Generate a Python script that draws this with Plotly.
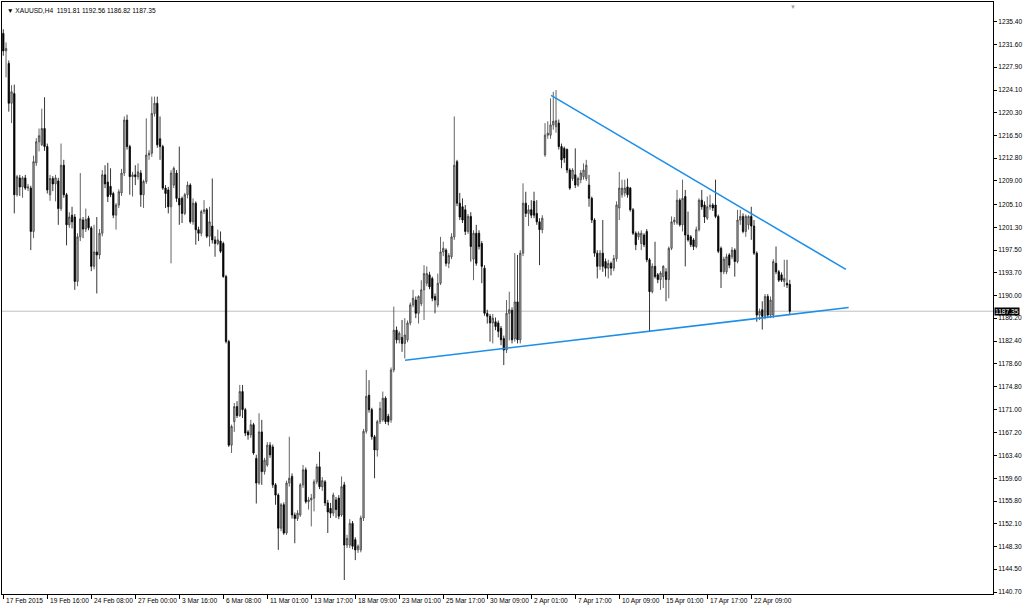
"""XAUUSD H4 candlestick chart with triangle trend lines (MT4 style)"""

import plotly.graph_objects as go

# OHLC per H4 bar, 17 Feb 2015 -> 24 Apr 2015
opens = [
    1233.5, 1230.6, 1228.5, 1221.9, 1223.5, 1206.7, 1209.5, 1208.0, 1209.5, 1207.8,
    1207.8, 1200.6, 1212.0, 1215.5, 1215.0, 1217.7, 1214.7, 1206.7, 1209.4, 1208.5,
    1209.0, 1204.4, 1211.6, 1206.7, 1201.7, 1203.3, 1203.0, 1192.3, 1199.7, 1202.5,
    1201.0, 1202.8, 1201.2, 1194.8, 1197.2, 1196.7, 1200.3, 1210.0, 1208.8, 1208.1,
    1206.9, 1203.3, 1205.0, 1207.0, 1210.3, 1219.1, 1214.7, 1209.7, 1210.0, 1209.7,
    1210.3, 1206.7, 1208.9, 1213.3, 1213.6, 1220.2, 1221.9, 1216.0, 1214.7, 1207.8,
    1207.5, 1204.7, 1208.3, 1210.3, 1206.1, 1206.1, 1203.6, 1206.7, 1208.3, 1202.2,
    1205.3, 1200.9, 1200.3, 1203.9, 1204.2, 1199.8, 1201.5, 1199.2, 1198.6, 1199.0,
    1198.6, 1193.1, 1182.3, 1165.1, 1169.0, 1171.5, 1170.0, 1174.0, 1171.0, 1167.3,
    1166.8, 1168.5, 1162.9, 1158.8, 1167.3, 1160.7, 1161.8, 1165.1, 1164.8, 1158.5,
    1156.8, 1151.3, 1155.2, 1150.5, 1158.8, 1159.9, 1153.5, 1152.9, 1153.5, 1158.5,
    1161.0, 1155.7, 1156.0, 1156.3, 1159.0, 1161.5, 1158.2, 1159.0, 1155.5, 1154.6,
    1153.8, 1156.0, 1156.3, 1153.5, 1158.5, 1148.5, 1148.5, 1152.1, 1149.4, 1147.7,
    1147.7, 1153.0, 1167.4, 1173.4, 1171.0, 1166.5, 1164.3, 1169.0, 1169.3, 1172.9,
    1169.9, 1169.3, 1177.6, 1184.2, 1182.6, 1183.0, 1182.0, 1182.6, 1185.4, 1188.4,
    1189.2, 1187.0, 1188.6, 1190.9, 1192.0, 1193.4, 1192.8, 1189.8, 1188.4, 1192.0,
    1197.2, 1197.5, 1195.3, 1196.4, 1199.7, 1212.2, 1205.3, 1204.7, 1204.2, 1200.6,
    1203.1, 1196.0, 1200.3, 1200.3, 1198.6, 1194.5, 1187.0, 1186.5, 1185.4, 1185.6,
    1185.4, 1184.5, 1182.8, 1180.9, 1187.0, 1187.5, 1182.8, 1188.9, 1182.6, 1197.0,
    1205.3, 1203.6, 1204.2, 1205.6, 1203.6, 1202.2, 1200.9, 1213.3, 1216.6, 1216.6,
    1218.3, 1218.0, 1218.6, 1214.7, 1214.4, 1214.2, 1210.8, 1209.4, 1210.0, 1208.3,
    1209.2, 1209.7, 1209.4, 1208.3, 1206.1, 1202.5, 1197.0, 1194.8, 1197.0, 1195.6,
    1194.5, 1195.3, 1194.5, 1196.1, 1204.5, 1206.7, 1207.0, 1208.0, 1207.8, 1204.2,
    1200.3, 1199.7, 1198.6, 1200.0, 1200.6, 1195.9, 1190.6, 1194.8, 1193.4, 1192.6,
    1193.1, 1193.9, 1192.6, 1197.8, 1202.2, 1202.0, 1205.8, 1201.7, 1206.4, 1200.0,
    1199.7, 1199.2, 1198.1, 1200.9, 1205.8, 1205.0, 1202.8, 1204.7, 1205.0, 1205.0,
    1203.1, 1197.8, 1193.9, 1193.9, 1196.7, 1196.4, 1197.5, 1195.6, 1202.5, 1203.1,
    1200.6, 1201.7, 1203.1, 1201.5, 1197.0, 1186.7, 1187.6, 1186.5, 1189.8, 1186.7,
    1186.7, 1195.3, 1193.9, 1193.4, 1192.3, 1192.0, 1191.81,
]
highs = [
    1234.2, 1232.0, 1229.0, 1224.9, 1225.0, 1210.0, 1210.0, 1209.8, 1210.0, 1208.5,
    1208.2, 1213.2, 1216.1, 1217.7, 1221.0, 1222.9, 1215.2, 1210.0, 1209.8, 1210.0,
    1209.5, 1215.2, 1212.5, 1207.0, 1203.8, 1204.7, 1203.5, 1200.3, 1210.3, 1203.0,
    1204.4, 1203.2, 1201.5, 1201.7, 1203.0, 1201.0, 1210.8, 1211.6, 1212.0, 1211.1,
    1207.2, 1205.3, 1207.6, 1211.0, 1219.7, 1220.0, 1215.0, 1210.5, 1211.6, 1211.9,
    1210.8, 1209.2, 1219.4, 1214.1, 1223.0, 1223.0, 1223.0, 1219.7, 1215.0, 1208.3,
    1208.0, 1210.8, 1211.4, 1210.8, 1214.7, 1206.4, 1207.0, 1208.9, 1208.6, 1206.1,
    1205.6, 1201.4, 1204.2, 1205.8, 1204.5, 1204.7, 1209.4, 1199.8, 1200.9, 1200.6,
    1198.9, 1193.4, 1182.6, 1168.5, 1172.1, 1172.4, 1175.1, 1175.1, 1171.3, 1167.6,
    1169.3, 1168.8, 1163.5, 1170.4, 1169.3, 1163.0, 1165.6, 1165.6, 1165.2, 1158.8,
    1157.1, 1155.5, 1155.6, 1159.2, 1166.5, 1160.4, 1153.9, 1154.3, 1158.8, 1161.8,
    1161.4, 1156.5, 1157.0, 1159.4, 1162.0, 1164.0, 1159.8, 1159.3, 1156.0, 1155.5,
    1157.2, 1156.5, 1156.8, 1159.9, 1159.0, 1150.2, 1152.8, 1152.5, 1149.8, 1148.6,
    1153.4, 1167.8, 1177.6, 1175.9, 1171.3, 1166.8, 1169.3, 1172.3, 1174.0, 1173.2,
    1170.3, 1178.0, 1188.1, 1184.8, 1184.0, 1185.9, 1186.2, 1185.8, 1188.8, 1190.9,
    1189.8, 1190.0, 1192.5, 1195.0, 1194.8, 1193.9, 1193.1, 1190.3, 1193.6, 1199.7,
    1198.9, 1197.8, 1197.0, 1200.3, 1219.7, 1212.5, 1207.0, 1206.1, 1205.0, 1203.5,
    1203.8, 1200.8, 1201.7, 1200.8, 1199.0, 1195.0, 1187.6, 1186.9, 1186.9, 1186.3,
    1185.8, 1184.9, 1183.3, 1189.2, 1190.6, 1188.0, 1197.0, 1196.7, 1197.5, 1208.6,
    1207.2, 1205.0, 1205.8, 1207.2, 1205.8, 1202.8, 1203.3, 1218.6, 1218.9, 1222.7,
    1223.8, 1224.1, 1219.2, 1215.2, 1214.7, 1214.4, 1211.1, 1211.1, 1214.4, 1209.7,
    1210.8, 1211.9, 1212.5, 1210.0, 1206.4, 1202.8, 1197.5, 1197.5, 1202.5, 1196.1,
    1195.9, 1195.6, 1196.7, 1205.6, 1210.5, 1209.2, 1209.2, 1209.4, 1208.0, 1204.5,
    1200.6, 1200.6, 1200.8, 1200.3, 1201.0, 1196.2, 1195.3, 1198.9, 1193.7, 1194.0,
    1195.0, 1194.5, 1198.1, 1203.1, 1203.0, 1207.5, 1206.1, 1209.2, 1207.5, 1203.9,
    1200.0, 1199.5, 1201.4, 1206.1, 1207.5, 1205.6, 1206.4, 1206.7, 1205.3, 1209.2,
    1203.4, 1198.1, 1196.4, 1196.9, 1197.0, 1198.0, 1197.8, 1204.2, 1204.2, 1203.6,
    1203.4, 1203.3, 1204.7, 1202.5, 1197.3, 1187.8, 1189.0, 1190.2, 1190.2, 1189.8,
    1196.0, 1198.1, 1194.2, 1193.8, 1195.9, 1195.9, 1192.56,
]
lows = [
    1229.8, 1226.2, 1220.5, 1218.6, 1203.6, 1206.4, 1206.5, 1206.2, 1207.5, 1207.3,
    1197.5, 1199.5, 1211.5, 1213.9, 1214.8, 1214.0, 1206.9, 1205.7, 1207.3, 1205.6,
    1201.7, 1204.0, 1206.2, 1198.3, 1201.2, 1201.1, 1190.9, 1191.5, 1199.0, 1199.5,
    1200.5, 1200.8, 1194.0, 1194.3, 1190.3, 1196.0, 1199.8, 1207.8, 1205.5, 1206.3,
    1202.8, 1200.9, 1204.5, 1206.5, 1209.8, 1214.2, 1206.7, 1206.4, 1208.3, 1209.2,
    1204.7, 1204.5, 1208.5, 1212.5, 1213.0, 1219.7, 1214.5, 1212.5, 1207.5, 1204.5,
    1203.6, 1195.3, 1207.8, 1205.5, 1201.7, 1202.0, 1203.3, 1206.1, 1201.9, 1201.7,
    1198.4, 1199.0, 1199.8, 1203.5, 1199.5, 1198.1, 1198.6, 1196.4, 1198.3, 1197.0,
    1192.9, 1182.0, 1164.8, 1163.8, 1167.3, 1169.6, 1169.8, 1169.6, 1166.6, 1166.0,
    1166.3, 1163.5, 1155.4, 1158.5, 1158.5, 1160.2, 1161.5, 1163.0, 1158.0, 1155.2,
    1147.7, 1150.8, 1150.2, 1150.2, 1158.2, 1152.9, 1148.8, 1152.5, 1153.2, 1158.0,
    1155.4, 1154.4, 1151.6, 1154.1, 1158.6, 1157.8, 1157.5, 1155.0, 1150.5, 1153.0,
    1153.3, 1153.0, 1152.8, 1153.2, 1142.7, 1148.0, 1148.0, 1147.8, 1146.0, 1147.2,
    1147.3, 1152.5, 1167.0, 1170.5, 1166.0, 1159.6, 1163.2, 1168.6, 1169.0, 1168.6,
    1168.4, 1168.8, 1177.2, 1182.0, 1182.0, 1180.6, 1179.5, 1182.2, 1185.0, 1188.0,
    1186.2, 1185.3, 1188.2, 1185.9, 1191.5, 1191.0, 1189.0, 1187.0, 1188.0, 1191.7,
    1196.5, 1194.8, 1194.5, 1196.0, 1199.2, 1204.8, 1202.5, 1202.0, 1200.0, 1200.2,
    1195.6, 1192.5, 1194.9, 1197.6, 1192.0, 1186.6, 1185.3, 1182.3, 1182.0, 1184.2,
    1183.0, 1181.7, 1178.4, 1180.4, 1182.5, 1182.0, 1182.3, 1182.0, 1182.0, 1196.5,
    1203.0, 1201.5, 1202.8, 1202.8, 1201.7, 1195.0, 1200.3, 1213.0, 1216.0, 1216.0,
    1217.5, 1217.0, 1214.2, 1211.1, 1212.0, 1210.3, 1207.5, 1209.0, 1207.8, 1208.0,
    1208.6, 1209.2, 1209.0, 1204.7, 1202.0, 1196.4, 1192.8, 1194.2, 1193.9, 1193.1,
    1192.8, 1193.3, 1194.0, 1195.6, 1202.5, 1206.2, 1206.4, 1206.2, 1203.9, 1200.0,
    1197.5, 1199.2, 1197.5, 1198.0, 1195.5, 1184.0, 1190.3, 1192.8, 1192.0, 1190.9,
    1191.2, 1189.0, 1189.5, 1197.5, 1201.7, 1201.7, 1201.4, 1200.6, 1194.8, 1198.9,
    1198.0, 1197.5, 1197.8, 1200.6, 1204.2, 1202.0, 1202.5, 1204.2, 1204.0, 1202.8,
    1197.0, 1191.2, 1193.5, 1193.5, 1194.5, 1196.0, 1193.1, 1195.3, 1201.7, 1200.3,
    1199.7, 1200.9, 1199.2, 1196.7, 1185.6, 1185.9, 1184.3, 1186.0, 1186.2, 1186.2,
    1186.2, 1193.5, 1192.2, 1192.2, 1191.4, 1191.2, 1186.82,
]
closes = [
    1230.6, 1231.0, 1221.9, 1223.8, 1206.7, 1209.7, 1208.0, 1209.5, 1207.8, 1208.0,
    1200.6, 1212.2, 1215.5, 1216.5, 1217.7, 1214.7, 1207.5, 1209.4, 1208.5, 1209.5,
    1204.4, 1211.6, 1206.7, 1201.7, 1203.0, 1202.2, 1192.3, 1199.7, 1202.7, 1201.0,
    1202.6, 1201.2, 1194.8, 1197.2, 1196.7, 1200.3, 1210.0, 1208.5, 1206.4, 1206.7,
    1203.3, 1205.0, 1207.2, 1210.3, 1219.1, 1214.7, 1209.7, 1210.0, 1209.7, 1210.5,
    1206.7, 1208.9, 1213.3, 1213.6, 1220.2, 1221.9, 1215.0, 1214.7, 1207.8, 1206.9,
    1204.7, 1210.3, 1211.1, 1206.1, 1205.0, 1203.6, 1206.7, 1208.3, 1202.2, 1205.3,
    1200.9, 1200.3, 1203.9, 1204.2, 1199.8, 1202.2, 1199.2, 1198.6, 1199.2, 1197.3,
    1193.1, 1182.3, 1165.1, 1168.2, 1171.5, 1170.0, 1174.0, 1171.0, 1167.1, 1166.8,
    1168.5, 1163.8, 1158.8, 1167.3, 1160.7, 1162.6, 1165.1, 1163.5, 1158.5, 1156.8,
    1151.3, 1155.2, 1150.5, 1158.8, 1159.6, 1153.5, 1152.9, 1153.8, 1158.5, 1161.0,
    1155.7, 1156.0, 1156.3, 1159.0, 1161.5, 1158.2, 1159.2, 1155.5, 1154.0, 1153.8,
    1156.8, 1154.4, 1153.3, 1158.2, 1148.5, 1149.6, 1152.1, 1148.3, 1147.7, 1148.3,
    1153.0, 1167.4, 1173.2, 1171.0, 1166.5, 1164.3, 1169.0, 1171.2, 1172.9, 1169.0,
    1169.0, 1177.6, 1184.2, 1182.6, 1183.7, 1182.0, 1183.4, 1185.4, 1188.4, 1189.5,
    1187.0, 1189.8, 1190.9, 1193.6, 1193.6, 1191.4, 1189.5, 1189.2, 1192.0, 1197.2,
    1197.8, 1195.3, 1196.6, 1199.7, 1211.6, 1205.3, 1203.0, 1202.5, 1200.6, 1203.1,
    1198.1, 1200.3, 1195.3, 1198.1, 1194.8, 1187.0, 1186.5, 1185.4, 1186.2, 1184.8,
    1184.0, 1182.6, 1180.9, 1187.0, 1187.6, 1182.6, 1188.9, 1182.6, 1197.0, 1205.3,
    1203.6, 1204.2, 1203.3, 1203.3, 1202.2, 1200.9, 1202.8, 1216.6, 1216.9, 1218.3,
    1218.9, 1219.0, 1214.7, 1212.5, 1212.8, 1210.8, 1207.8, 1210.8, 1208.3, 1209.4,
    1210.3, 1210.8, 1211.6, 1206.1, 1202.5, 1197.0, 1194.8, 1197.0, 1194.8, 1194.5,
    1195.3, 1194.5, 1196.1, 1205.0, 1207.8, 1207.8, 1207.8, 1206.7, 1204.2, 1200.3,
    1198.4, 1200.3, 1200.3, 1198.4, 1195.9, 1190.6, 1194.8, 1193.1, 1192.6, 1193.7,
    1194.8, 1192.6, 1197.8, 1202.2, 1202.5, 1205.8, 1201.7, 1206.1, 1200.0, 1199.2,
    1198.4, 1198.1, 1200.9, 1205.8, 1204.7, 1203.0, 1204.7, 1205.0, 1204.5, 1203.1,
    1197.3, 1193.9, 1196.0, 1196.4, 1195.0, 1197.5, 1195.6, 1202.5, 1203.1, 1200.6,
    1203.1, 1203.1, 1201.5, 1197.0, 1186.7, 1187.3, 1186.5, 1189.8, 1186.7, 1189.2,
    1195.6, 1193.9, 1192.5, 1192.5, 1192.8, 1191.7, 1187.35,
]
bars = list(range(len(closes)))

# 时间轴标签（每 16 根 K 线一个）
time_labels = [
    "17 Feb 2015", "19 Feb 16:00", "24 Feb 08:00", "27 Feb 00:00", "3 Mar 16:00",
    "6 Mar 08:00", "11 Mar 01:00", "13 Mar 17:00", "18 Mar 09:00", "23 Mar 01:00",
    "25 Mar 17:00", "30 Mar 09:00", "2 Apr 01:00", "7 Apr 17:00", "10 Apr 09:00",
    "15 Apr 01:00", "17 Apr 17:00", "22 Apr 09:00",
]
time_label_bars = [16 * i for i in range(len(time_labels))]

# 价格轴刻度
price_ticks = [
    1235.40, 1231.60, 1227.90, 1224.10, 1220.30, 1216.50, 1212.80, 1209.00, 1205.10,
    1201.30, 1197.50, 1193.70, 1190.00, 1186.20, 1182.40, 1178.60, 1174.80, 1171.00,
    1167.20, 1163.40, 1159.60, 1155.80, 1152.10, 1148.30, 1144.50, 1140.70,
]

# 三角形趋势线 (bar index, price)
resistance_x = [199.2, 306.4]
resistance_y = [1223.2, 1194.3]
support_x = [146.1, 307.4]
support_y = [1179.2, 1187.96]

FONT = "Liberation Sans"
TREND_COLOR = "#1E8FE8"

fig = go.Figure()

fig.add_trace(
    go.Candlestick(
        x=bars,
        open=opens,
        high=highs,
        low=lows,
        close=closes,
        increasing=dict(line=dict(color="#3c3c3c", width=0.8), fillcolor="#b4b4b4"),
        decreasing=dict(line=dict(color="black", width=0.8), fillcolor="black"),
        whiskerwidth=0,
        hoverinfo="skip",
    )
)

for tx, ty in [(resistance_x, resistance_y), (support_x, support_y)]:
    fig.add_trace(
        go.Scatter(
            x=tx,
            y=ty,
            mode="lines",
            line=dict(color=TREND_COLOR, width=1.6),
            hoverinfo="skip",
        )
    )

# 当前价格线
fig.add_shape(
    type="line",
    xref="paper",
    x0=0,
    x1=1,
    y0=closes[-1],
    y1=closes[-1],
    line=dict(color="#c0c0c0", width=1),
    layer="below",
)

annotations = []
for b, lab in zip(time_label_bars, time_labels):
    annotations.append(
        dict(
            x=b,
            xref="x",
            y=0,
            yref="paper",
            xanchor="left",
            yanchor="top",
            yshift=-1,
            xshift=1,
            text=lab,
            showarrow=False,
            font=dict(family=FONT, size=6.6, color="black"),
        )
    )

annotations.append(
    dict(
        x=1,
        xref="paper",
        y=closes[-1],
        yref="y",
        xanchor="left",
        yanchor="middle",
        xshift=1,
        text=f"{closes[-1]:.2f}",
        showarrow=False,
        bgcolor="black",
        borderpad=0,
        font=dict(family=FONT, size=6.6, color="white"),
    )
)

annotations.append(
    dict(
        x=0,
        xref="paper",
        y=1,
        yref="paper",
        xanchor="left",
        yanchor="top",
        xshift=3,
        yshift=-3,
        text=(
            f"▼ XAUUSD,H4\u00a0\u00a0{opens[-1]:.2f} {highs[-1]:.2f} "
            f"{lows[-1]:.2f} {closes[-1]:.2f}"
        ),
        showarrow=False,
        font=dict(family=FONT, size=6.6, color="black"),
    )
)

# chart shift 标记
annotations.append(
    dict(
        x=len(closes),
        xref="x",
        y=1,
        yref="paper",
        xanchor="center",
        yanchor="top",
        text="▼",
        showarrow=False,
        font=dict(family=FONT, size=6, color="#a0a0a0"),
    )
)

fig.update_layout(
    width=1024,
    height=608,
    margin=dict(l=2, r=31, t=2, b=14),
    paper_bgcolor="white",
    plot_bgcolor="white",
    showlegend=False,
    hovermode=False,
    annotations=annotations,
    xaxis=dict(
        range=[-0.47, 359.9],
        rangeslider=dict(visible=False),
        showgrid=False,
        zeroline=False,
        showline=True,
        linecolor="black",
        linewidth=1,
        mirror=True,
        ticks="outside",
        ticklen=4,
        tickcolor="black",
        tickvals=time_label_bars,
        showticklabels=False,
    ),
    yaxis=dict(
        range=[1140.37, 1238.72],
        side="right",
        showgrid=False,
        zeroline=False,
        showline=True,
        linecolor="black",
        linewidth=1,
        mirror=True,
        ticks="outside",
        ticklen=3,
        tickcolor="black",
        tickvals=price_ticks,
        ticktext=[f"{v:.2f}" for v in price_ticks],
        tickfont=dict(family=FONT, size=6.6, color="black"),
    ),
)

# 去掉页面默认边距和工具栏，让图表贴齐窗口
fig.write_html(
    "out.html",
    config={"displayModeBar": False},
    post_script="document.body.style.margin='0';",
)
